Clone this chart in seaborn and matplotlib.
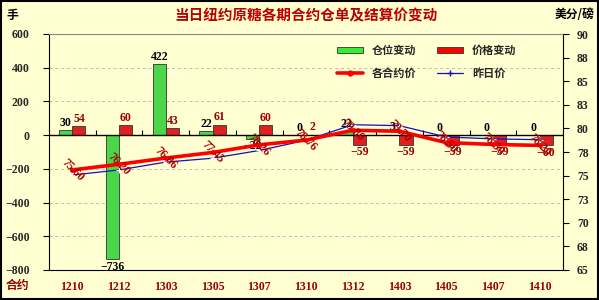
import numpy as np
import pandas as pd
import matplotlib
matplotlib.use("Agg")
import matplotlib.pyplot as plt
import seaborn as sns
from matplotlib.patches import Rectangle, Patch
from matplotlib.lines import Line2D

contracts = ["1210", "1212", "1303", "1305", "1307", "1310", "1312", "1403", "1405", "1407", "1410"]
position_change = [30, -736, 422, 22, -22, 0, 22, 3, 0, 0, 0]
price_change = [54, 60, 43, 61, 60, 2, -59, -59, -59, -59, -60]
price_today = [75.60, 76.20, 76.86, 77.45, 78.26, 78.76, 79.80, 79.70, 78.50, 78.30, 78.20]
price_yesterday = [75.06, 75.60, 76.43, 76.84, 77.66, 78.74, 80.39, 80.29, 79.09, 78.89, 78.80]
left_ticks = [-800, -600, -400, -200, 0, 200, 400, 600]
right_ticks = [65, 67.5, 70, 72.5, 75, 77.5, 80, 82.5, 85, 87.5, 90]

BG = "#FFFFD2"
DARKRED = "#990000"
NUMFONT = ["Liberation Serif", "Noto Sans CJK SC"]
CJK = ["Noto Sans CJK SC", "DejaVu Sans"]

sns.set_theme(style="white")
plt.rcParams["font.family"] = NUMFONT
plt.rcParams["axes.unicode_minus"] = True

fig = plt.figure(figsize=(5.99, 3.0), dpi=100, facecolor=BG)
ax = fig.add_axes([49/599, 30/300, (563-49)/599, (270-34)/300])
ax.set_facecolor(BG)

df = pd.DataFrame({
    "contract": contracts * 2,
    "series": ["仓位变动"] * len(contracts) + ["价格变动"] * len(contracts),
    "value": position_change + price_change,
})
sns.barplot(data=df, x="contract", y="value", hue="series", order=contracts,
            hue_order=["仓位变动", "价格变动"],
            palette={"仓位变动": "#33EE33", "价格变动": "#FF0000"},
            width=0.56, ax=ax, edgecolor="#333333", linewidth=0.6, legend=False)

def fmt(v):
    return f"{v:d}".replace("-", "\u2212")

for cont, vals, col in zip(ax.containers, [position_change, price_change], ["black", DARKRED]):
    ax.bar_label(cont, labels=[fmt(v) for v in vals], padding=1, fontsize=8.5,
                 fontweight="bold", color=col, family=NUMFONT)

ax.set_ylim(-800, 600)
ax.set_xlim(-0.5, len(contracts) - 0.5)
ax.set_yticks(left_ticks)
ax.set_yticklabels([fmt(v) for v in left_ticks], fontsize=8.5, fontweight="bold")
for y in left_ticks[1:-1]:
    if y != 0:
        ax.axhline(y, color="#BBBBBB", lw=0.7, ls=(0, (3, 3)), zorder=0)
ax.axhline(0, color="black", lw=1.0, zorder=3)
ax.vlines(np.arange(len(contracts) + 1) - 0.5, 0, 30, color="black", lw=0.8, zorder=3)
ax.set_xlabel("")
ax.set_ylabel("")
ax.tick_params(axis="y", direction="out", length=4, width=0.8, color="black", pad=10)
ax.tick_params(axis="x", length=0, pad=8)
for lab in ax.get_xticklabels():
    lab.set_color(DARKRED)
    lab.set_fontweight("bold")
    lab.set_fontsize(8.5)
for s in ["left", "bottom", "right"]:
    ax.spines[s].set_color("black")
    ax.spines[s].set_linewidth(0.8)
ax.spines["top"].set_color("#888888")
ax.spines["top"].set_linewidth(0.8)

ax2 = ax.twinx()
xpos = np.arange(len(contracts))
sns.lineplot(x=xpos, y=price_yesterday, ax=ax2, color="#1010C0", lw=0.9,
             marker="+", markersize=4, markeredgewidth=0.8)
sns.lineplot(x=xpos, y=price_today, ax=ax2, color="#FF0000", lw=2.6,
             marker="o", markersize=3.5, markeredgewidth=0)
for x, v in zip(xpos, price_today):
    ax2.text(x, v, f"{v:.2f}", rotation=-45, ha="center", va="center",
             fontsize=8.5, fontweight="bold", color="#AA0000", family=NUMFONT, zorder=6)
ax2.set_ylim(65, 90)
ax2.set_yticks(right_ticks)
ax2.set_yticklabels([str(int(v + 0.5)) for v in right_ticks], fontsize=8.5, fontweight="bold")
ax2.tick_params(axis="y", direction="out", length=4, width=0.8, color="black", pad=6)
ax2.set_xlim(-0.5, len(contracts) - 0.5)
for s in ax2.spines.values():
    s.set_visible(False)

handles = [
    Patch(facecolor="#33EE33", edgecolor="#333333", linewidth=0.6),
    Line2D([0], [0], color="#FF0000", lw=2.6, marker="o", markersize=3.5),
    Patch(facecolor="#FF0000", edgecolor="#333333", linewidth=0.6),
    Line2D([0], [0], color="#1010C0", lw=0.9, marker="+", markersize=4),
]
labels = ["仓位变动", "各合约价", "价格变动", "昨日价"]
leg = ax.legend(handles, labels, ncol=2, loc="upper left", bbox_to_anchor=(0.54, 1.0),
                frameon=False, handlelength=2.4, handleheight=0.5,
                columnspacing=1.8, labelspacing=0.9, prop={"family": CJK, "weight": "bold", "size": 8})

fig.text(306/599, 1 - 15/300, "当日纽约原糖各期合约仓单及结算价变动", ha="center", va="center",
         fontsize=10.5, fontweight="bold", color="#BB0000", family=CJK)
fig.text(12/599, 1 - 15/300, "手", ha="center", va="center", fontsize=8.5,
         fontweight="bold", color="black", family=CJK)
fig.text(575/599, 1 - 15/300, "美分/磅", ha="center", va="center", fontsize=8.5,
         fontweight="bold", color="black", family=CJK)
fig.text(17/599, 1 - 285/300, "合约", ha="center", va="center", fontsize=8.5,
         fontweight="bold", color=DARKRED, family=CJK)

fig.patches.append(Rectangle((0.002, 0.003), 0.996, 0.994, transform=fig.transFigure,
                             fill=False, edgecolor="black", lw=1.5))

fig.savefig("out.png", dpi=100, facecolor=BG)
